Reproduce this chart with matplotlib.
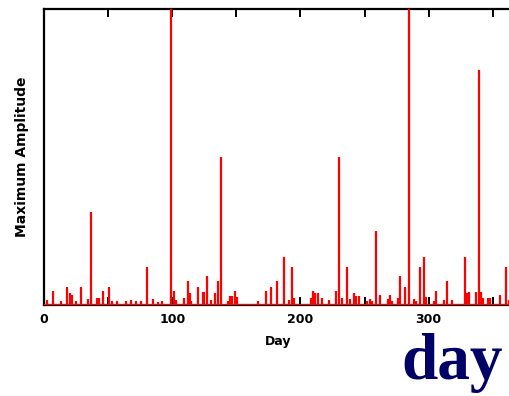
import matplotlib
matplotlib.use("Agg")
import matplotlib.pyplot as plt
from matplotlib.ticker import MultipleLocator, NullFormatter

# spike data (day, maximum amplitude, normalised to the axis top)
days = [2, 7, 13, 18, 20, 22, 25, 29, 34, 37, 41, 43, 46, 51, 53, 57, 64, 68, 72, 76,
        80, 85, 89, 92, 99, 101, 103, 109, 112, 113.5, 115, 120, 124, 125, 127, 130,
        133.5, 135.7, 138.3, 143.5, 145, 147, 148.7, 150.5, 167, 173, 177, 182, 187,
        191, 193.5, 195, 208, 210, 211.7, 213.5, 217, 222, 228, 229.8, 232.5, 236.5,
        238.5, 241.6, 243.7, 245.5, 252, 254, 256, 258.6, 262, 268, 270, 271.6, 276,
        278, 281.5, 284.6, 288.5, 290, 293, 296.3, 297.7, 304, 306, 312, 314.6, 318.5,
        328.4, 330, 331.5, 337, 339.3, 340.6, 342.4, 346, 347.7, 356, 360.7, 362.5]
amps = [0.017, 0.047, 0.014, 0.061, 0.041, 0.034, 0.014, 0.061, 0.020, 0.314, 0.024,
        0.024, 0.047, 0.061, 0.014, 0.014, 0.014, 0.017, 0.014, 0.014, 0.128, 0.020,
        0.010, 0.014, 1.0, 0.047, 0.017, 0.024, 0.081, 0.041, 0.014, 0.061, 0.044,
        0.044, 0.098, 0.017, 0.041, 0.081, 0.500, 0.014, 0.030, 0.030, 0.047, 0.027,
        0.014, 0.047, 0.061, 0.081, 0.162, 0.017, 0.128, 0.024, 0.024, 0.047, 0.041,
        0.041, 0.024, 0.017, 0.047, 0.500, 0.024, 0.128, 0.020, 0.041, 0.030, 0.030,
        0.014, 0.020, 0.014, 0.250, 0.034, 0.020, 0.034, 0.014, 0.024, 0.098, 0.061,
        1.0, 0.020, 0.014, 0.128, 0.162, 0.027, 0.014, 0.047, 0.017, 0.081, 0.017,
        0.162, 0.041, 0.044, 0.044, 0.794, 0.044, 0.024, 0.024, 0.024, 0.034, 0.128,
        0.017]
x_major = [0, 100, 200, 300]
x_labels = ["0", "100", "200", "300"]

W, H = 510, 396
fig = plt.figure(figsize=(W / 100, H / 100), dpi=100)
ax = fig.add_axes([44 / W, (H - 305) / H, (512 - 44) / W, (305 - 9) / H])

ax.vlines(days, 0, amps, colors="#ff0000", linewidth=1.6, zorder=3)
ax.axhline(0, color="#ff0000", linewidth=2.2, zorder=3)

ax.set_xlim(0, 365)
ax.set_ylim(0, 1)
ax.set_xticks(x_major)
ax.set_xticklabels(x_labels, fontsize=9, fontweight="bold", family="DejaVu Sans")
ax.xaxis.set_minor_locator(MultipleLocator(50))
ax.xaxis.set_minor_formatter(NullFormatter())
ax.tick_params(axis="x", which="both", direction="in", top=True, bottom=True,
               length=6, width=1.4, color="black", pad=6)
ax.set_yticks([])
for side in ["left", "top", "bottom"]:
    ax.spines[side].set_linewidth(1.6)
ax.spines["right"].set_visible(False)

ax.set_xlabel("Day", fontsize=9, fontweight="bold", family="DejaVu Sans", labelpad=6)
ax.set_ylabel("Maximum Amplitude", fontsize=10, fontweight="bold",
              family="DejaVu Sans", labelpad=11)

fig.text(401 / W, (H - 379) / H, "day", fontsize=47, fontweight="bold",
         family="Liberation Serif", color="#000066", ha="left", va="baseline")

fig.savefig("out.png", dpi=100)
